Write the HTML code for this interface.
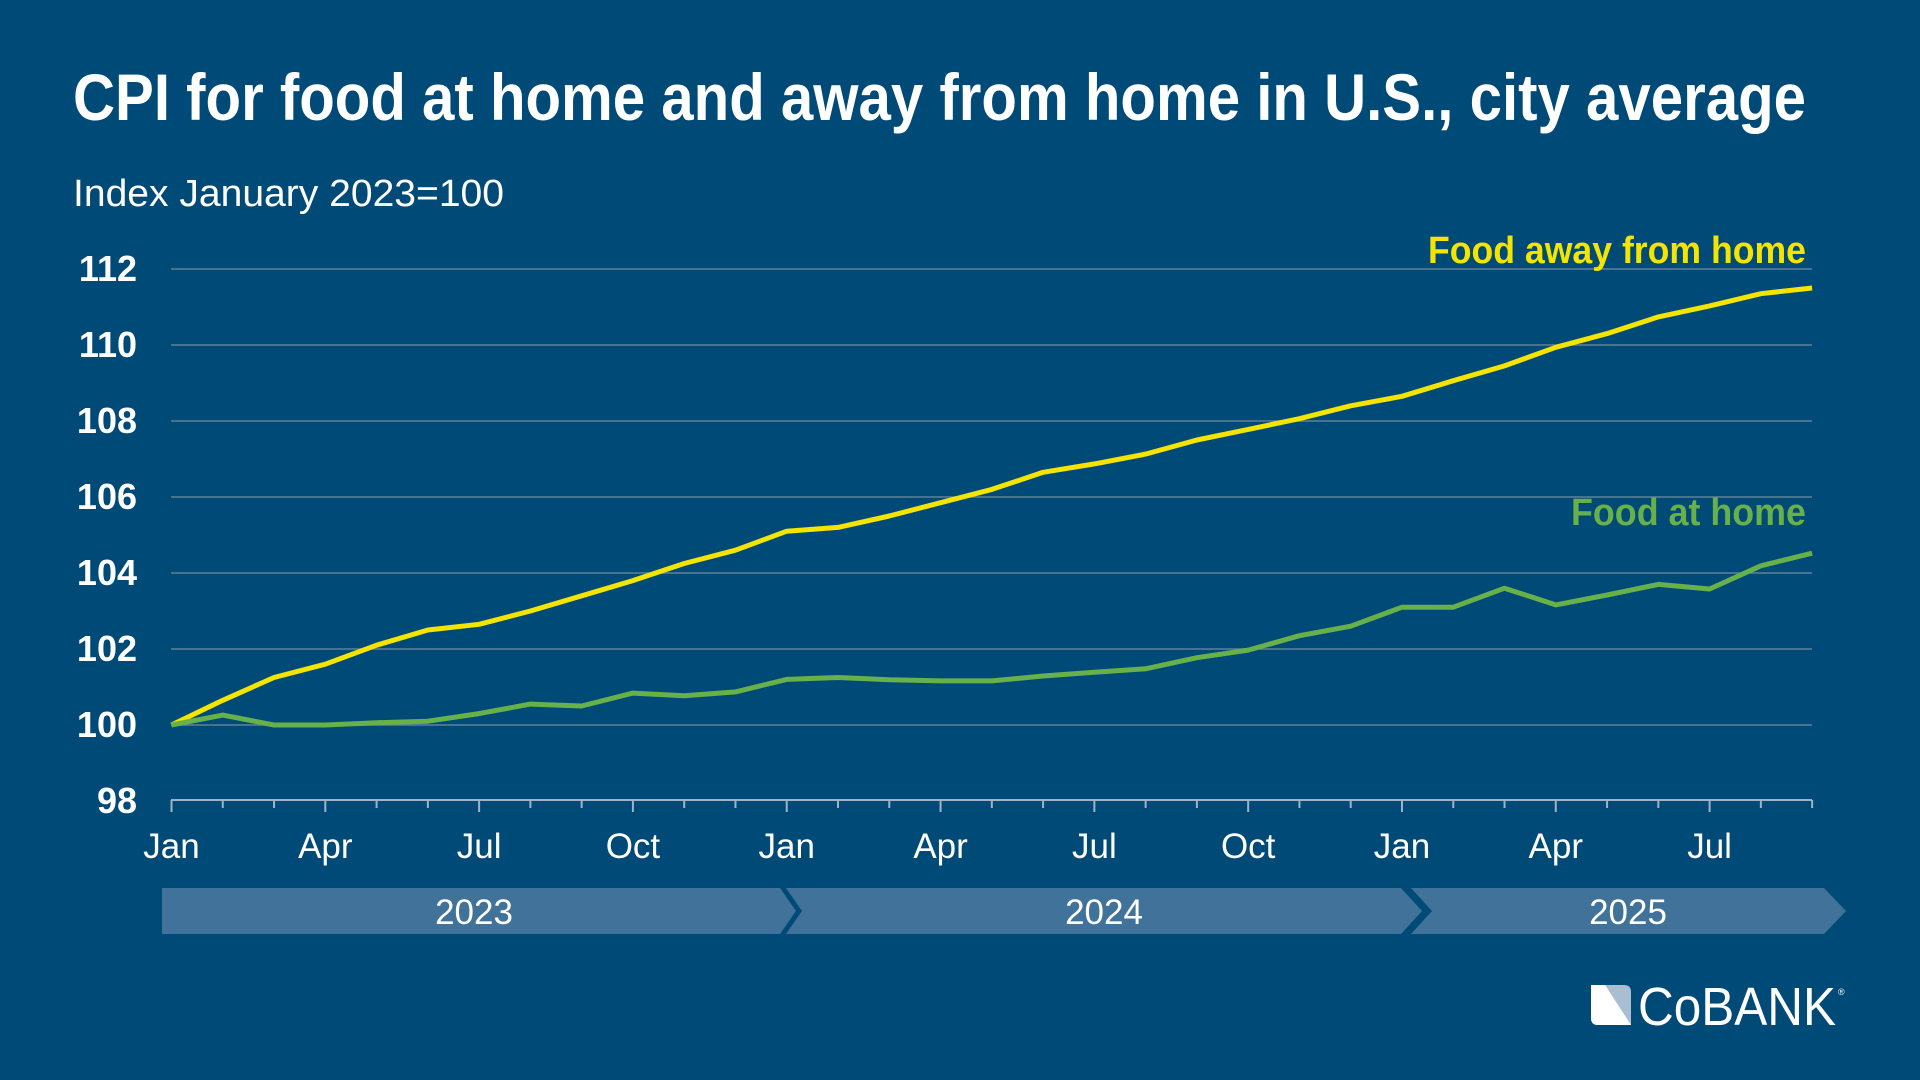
<!DOCTYPE html>
<html><head><meta charset="utf-8"><style>
html,body{margin:0;padding:0;background:#004a78;}
svg{display:block}
text{font-family:"Liberation Sans Narrow","Liberation Sans",sans-serif;}
</style></head><body>
<svg id="s" width="1920" height="1080" viewBox="0 0 1920 1080" xmlns="http://www.w3.org/2000/svg">
<rect width="1920" height="1080" fill="#004a78"/>
<text x="73" y="120" font-size="66" font-weight="bold" fill="#fff" textLength="1733" lengthAdjust="spacingAndGlyphs">CPI for food at home and away from home in U.S., city average</text>
<text x="73" y="206" font-size="38" fill="#fff" textLength="431" lengthAdjust="spacingAndGlyphs">Index January 2023=100</text>
<g id="grid" stroke="#5f7f98" stroke-width="1.5"></g>
<g id="ylab" font-size="36" font-weight="bold" fill="#fff" text-anchor="end"></g>
<line x1="171" y1="800" x2="1812" y2="800" stroke="#9fb3c4" stroke-width="2"/>
<g id="ticks" stroke="#9fb3c4" stroke-width="2"></g>
<g id="xlab" font-size="35" fill="#fff" text-anchor="middle"></g>
<polygon points="162,888 780,888 796,911 780,934 162,934" fill="#41739a"/>
<polygon points="786,888 1401,888 1422,911 1401,934 786,934 802,911" fill="#41739a"/>
<polygon points="1411,888 1824,888 1846,911 1824,934 1411,934 1432,911" fill="#41739a"/>
<g font-size="35" fill="#fff" text-anchor="middle">
<text x="474" y="924">2023</text><text x="1104" y="924">2024</text><text x="1628" y="924">2025</text>
</g>
<polyline id="away" fill="none" stroke="#f5e300" stroke-width="5" stroke-linejoin="round"/>
<polyline id="home" fill="none" stroke="#68b04a" stroke-width="5" stroke-linejoin="round"/>
<text x="1428" y="263" font-size="38" font-weight="bold" fill="#f5e300" textLength="378" lengthAdjust="spacingAndGlyphs">Food away from home</text>
<text x="1571" y="525" font-size="38" font-weight="bold" fill="#68b04a" textLength="235" lengthAdjust="spacingAndGlyphs">Food at home</text>
<g>
<path d="M1591,985 L1624,985 Q1631,985 1631,992 L1631,1025 L1598,1025 Q1591,1025 1591,1018 Z" fill="#a9bfd1"/>
<path d="M1591,985 L1605,985 L1631,1025 L1598,1025 Q1591,1025 1591,1018 Z" fill="#fff"/>
<text x="1638" y="1025" font-size="54" fill="#fff" textLength="198" lengthAdjust="spacingAndGlyphs">CoBANK</text>
<text x="1838" y="995" font-size="9" fill="#fff">®</text>
</g>
</svg>
<script>
var NS="http://www.w3.org/2000/svg";
function X(m){return 171.5+51.27*m;}
function Y(v){return 801-(v-98)*38;}
function el(p,t,a,txt){var e=document.createElementNS(NS,t);for(var k in a)e.setAttribute(k,a[k]);if(txt)e.textContent=txt;document.getElementById(p).appendChild(e);}
for(var v=100;v<=112;v+=2){el("grid","line",{x1:171,x2:1812,y1:Y(v),y2:Y(v)});}
for(var v=98;v<=112;v+=2){el("ylab","text",{x:137,y:Y(v)+12},String(v));}
var names=["Jan","Apr","Jul","Oct"];
for(var m=0;m<=32;m++){var major=m%3==0;el("ticks","line",{x1:X(m),x2:X(m),y1:800,y2:major?812:808});
 if(major)el("xlab","text",{x:X(m),y:858},names[(m/3)%4]);}
var away=[100,100.65,101.25,101.6,102.1,102.5,102.65,103.0,103.4,103.8,104.25,104.6,105.1,105.2,105.5,105.85,106.2,106.65,106.87,107.13,107.5,107.78,108.06,108.4,108.65,109.06,109.45,109.94,110.3,110.74,111.03,111.35,111.5];
var home=[100,100.26,100,100,100.06,100.1,100.3,100.55,100.5,100.84,100.77,100.87,101.2,101.25,101.19,101.16,101.16,101.29,101.39,101.48,101.77,101.97,102.35,102.6,103.1,103.1,103.6,103.16,103.42,103.7,103.58,104.19,104.52];
function pts(a){return a.map(function(v,i){return X(i).toFixed(1)+","+Y(v).toFixed(1)}).join(" ");}
document.getElementById("away").setAttribute("points",pts(away));
document.getElementById("home").setAttribute("points",pts(home));
</script>
</body></html>
